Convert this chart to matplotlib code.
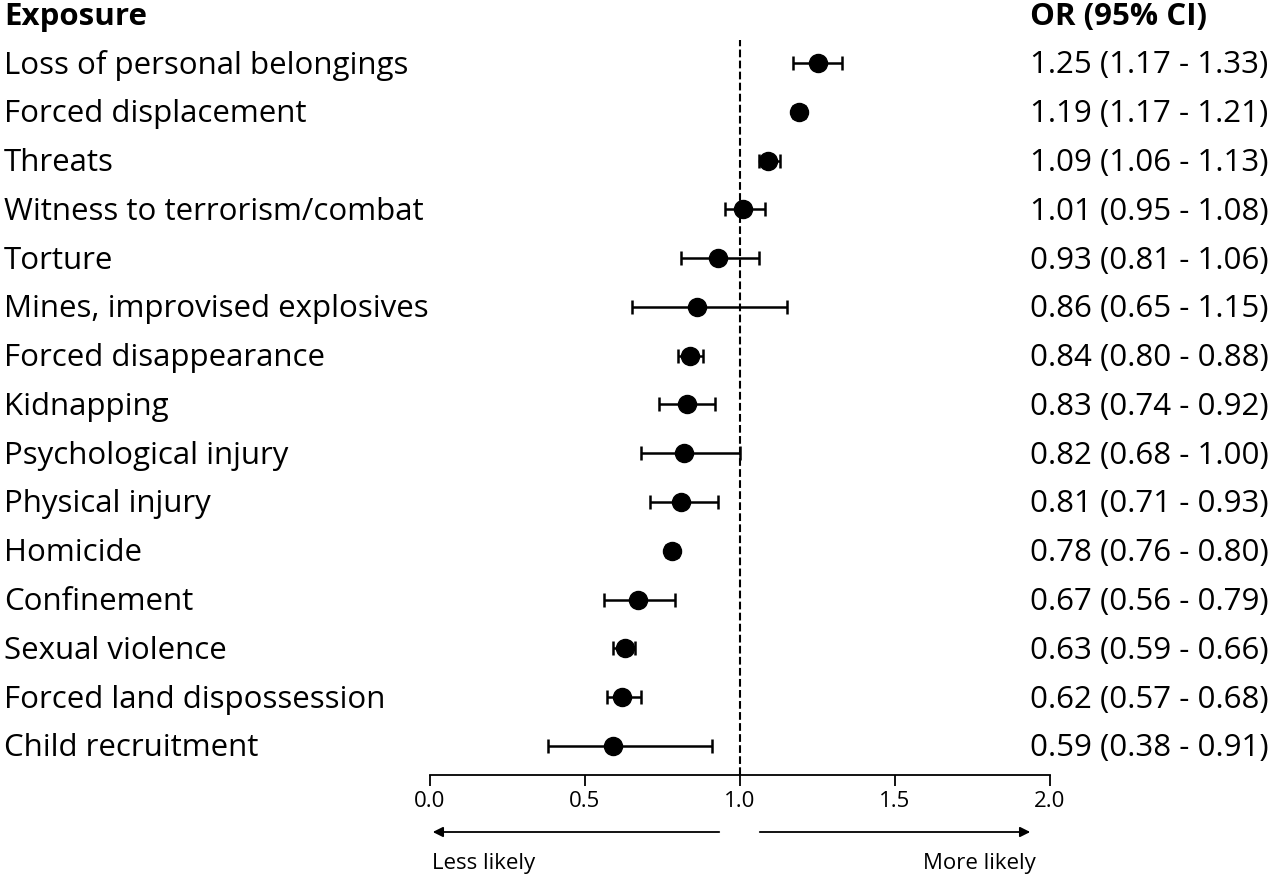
import matplotlib
matplotlib.use("Agg")
import matplotlib.pyplot as plt
from matplotlib.transforms import blended_transform_factory

plt.rcParams['font.family'] = ['Open Sans', 'DejaVu Sans']

exposures = ["Loss of personal belongings", "Forced displacement", "Threats",
             "Witness to terrorism/combat", "Torture", "Mines, improvised explosives",
             "Forced disappearance", "Kidnapping", "Psychological injury",
             "Physical injury", "Homicide", "Confinement", "Sexual violence",
             "Forced land dispossession", "Child recruitment"]
or_vals = [1.25, 1.19, 1.09, 1.01, 0.93, 0.86, 0.84, 0.83, 0.82, 0.81, 0.78, 0.67, 0.63, 0.62, 0.59]
lo_vals = [1.17, 1.17, 1.06, 0.95, 0.81, 0.65, 0.80, 0.74, 0.68, 0.71, 0.76, 0.56, 0.59, 0.57, 0.38]
hi_vals = [1.33, 1.21, 1.13, 1.08, 1.06, 1.15, 0.88, 0.92, 1.00, 0.93, 0.80, 0.79, 0.66, 0.68, 0.91]
xticks = [0.0, 0.5, 1.0, 1.5, 2.0]

fig = plt.figure(figsize=(12.8, 8.82), dpi=100)
ax = fig.add_axes([430/1280, 1-775/882, 620/1280, 735/882])
ys = list(range(len(exposures)))
for y, o, l, h in zip(ys, or_vals, lo_vals, hi_vals):
    ax.errorbar(o, y, xerr=[[o-l], [h-o]], fmt='o', color='black', ms=13,
                capsize=5, elinewidth=1.8, capthick=1.8)
ax.axvline(1.0, color='black', ls='--', lw=1.5)
ax.set_xlim(0, 2)
ax.set_ylim(14.594, -0.47)
for s in ['top', 'right', 'left']:
    ax.spines[s].set_visible(False)
ax.spines['bottom'].set_linewidth(1.3)
ax.set_yticks([])
ax.set_xticks(xticks)
ax.set_xticklabels([f"{t:.1f}" for t in xticks], fontsize=16)
ax.tick_params(axis='x', length=8, width=1.3)

fs = 22.5
tr = blended_transform_factory(fig.transFigure, ax.transData)
for y, name, o, l, h in zip(ys, exposures, or_vals, lo_vals, hi_vals):
    fig.text(4/1280, y + 0.05, name, transform=tr, fontsize=fs, va='center', ha='left')
    fig.text(1030/1280, y + 0.05, f"{o:.2f} ({l:.2f} - {h:.2f})", transform=tr,
             fontsize=fs, va='center', ha='left')
fig.text(4/1280, 1-17/882, "Exposure", fontsize=fs, fontweight='bold', va='center')
fig.text(1030/1280, 1-17/882, "OR (95% CI)", fontsize=fs, fontweight='bold', va='center')

ya = 1-832/882
fig.add_artist(matplotlib.patches.FancyArrowPatch((722/1280, ya), (430/1280, ya),
               transform=fig.transFigure, arrowstyle='-|>', mutation_scale=15, color='black', lw=1.3))
fig.add_artist(matplotlib.patches.FancyArrowPatch((757/1280, ya), (1033/1280, ya),
               transform=fig.transFigure, arrowstyle='-|>', mutation_scale=15, color='black', lw=1.3))
fig.text(432/1280, 1-864/882, "Less likely", fontsize=16, va='center', ha='left')
fig.text(1036/1280, 1-864/882, "More likely", fontsize=16, va='center', ha='right')

fig.savefig("out.png", dpi=100)
